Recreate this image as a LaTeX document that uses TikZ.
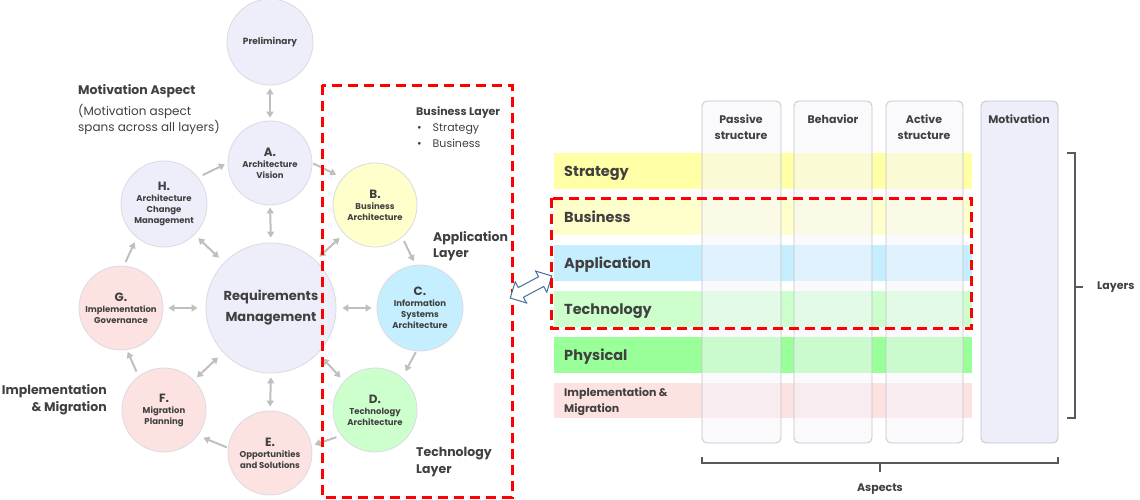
\documentclass[tikz,border=0pt]{standalone}
\usepackage{fontspec}
\setmainfont{Poppins}
\usetikzlibrary{arrows.meta,shapes.arrows}
\definecolor{txt}{HTML}{404040}
\definecolor{lav}{RGB}{238,238,251}
\definecolor{circline}{RGB}{218,218,226}
\definecolor{yel}{RGB}{255,255,204}
\definecolor{blu}{RGB}{197,238,255}
\definecolor{grn}{RGB}{204,255,204}
\definecolor{pnk}{RGB}{253,226,226}
\definecolor{stratc}{RGB}{255,255,165}
\definecolor{physc}{RGB}{153,255,153}
\definecolor{arrc}{RGB}{191,191,191}
\definecolor{colc}{RGB}{246,246,252}
\definecolor{colline}{RGB}{195,195,200}
\definecolor{bluearr}{RGB}{65,113,156}
\definecolor{bracec}{RGB}{89,89,89}
\tikzset{
  circ/.style={circle, draw=circline, line width=0.8pt, inner sep=0pt, align=center, text=txt,
     font=\fontsize{8.5}{11}\selectfont\bfseries},
  one/.style={draw=arrc, line width=2pt, -{Triangle[length=6pt,width=7pt]}},
  bi/.style={draw=arrc, line width=2pt, {Triangle[length=6pt,width=7pt]}-{Triangle[length=6pt,width=7pt]}},
  reddash/.style={draw=red, line width=3pt, dash pattern=on 10pt off 6pt},
  lbl/.style={text=txt, inner sep=0pt, anchor=west, align=left},
  colbox/.style={draw=colline, line width=0.8pt, rounded corners=5pt, fill=colc, fill opacity=0.55},
  bracel/.style={draw=bracec, line width=1.2pt},
  hdr/.style={text=txt, align=center, font=\fontsize{11}{16}\selectfont\bfseries},
  rowl/.style={lbl, anchor=base west, font=\fontsize{14.5}{16}\selectfont\bfseries},
}
\newcommand{\bigf}[1]{{\fontsize{12}{12}\selectfont #1}}
\begin{document}
\begin{tikzpicture}[x=1pt,y=-1pt]
\useasboundingbox (0,0) rectangle (1140,499);
% ---------- left cycle ----------
\node[circ, fill=lav, minimum size=86pt, font=\fontsize{9}{11}\selectfont\bfseries] (P) at (270,42) {Preliminary};
\node[circ, fill=lav, minimum size=84pt] (A) at (270,163) {\bigf{A.}\\Architecture\\Vision};
\node[circ, fill=lav, minimum size=86pt] (H) at (164,204) {\bigf{H.}\\Architecture\\Change\\Management};
\node[circ, fill=lav, minimum size=130pt, font=\fontsize{13}{21}\selectfont\bfseries] (RM) at (271,308) {Requirements\\Management};
\node[circ, fill=pnk, minimum size=84pt] (G) at (121,308) {\bigf{G.}\\Implementation\\Governance};
\node[circ, fill=pnk, minimum size=84pt] (F) at (164,410) {\bigf{F.}\\Migration\\Planning};
\node[circ, fill=pnk, minimum size=84pt] (E) at (270,453) {\bigf{E.}\\Opportunities\\and Solutions};
\node[circ, fill=yel, minimum size=84pt] (B) at (375,205) {\bigf{B.}\\Business\\Architecture};
\node[circ, fill=blu, minimum size=86pt] (C) at (420,308) {\bigf{C.}\\Information\\Systems\\Architecture};
\node[circ, fill=grn, minimum size=84pt] (D) at (375,410) {\bigf{D.}\\Technology\\Architecture};
% cycle arrows
\draw[bi, shorten <=3pt, shorten >=3pt] (P.south) -- (A.north);
\draw[bi, shorten <=2pt, shorten >=5pt] (A.south) -- (RM.north);
\draw[one, shorten <=5pt, shorten >=3pt] (H.38) -- (A.180);
\draw[one, shorten <=1pt, shorten >=7pt] (A.0) -- (B.140);
\draw[one, shorten <=4pt, shorten >=4pt] (B.-50) -- (C.96);
\draw[one, shorten <=1pt, shorten >=7pt] (C.265) -- (D.50);
\draw[one, shorten <=5pt, shorten >=3pt] (D.217) -- (E.10);
\draw[one, shorten <=1pt, shorten >=6pt] (E.173) -- (F.-37);
\draw[one, shorten <=5pt, shorten >=2pt] (F.127) -- (G.-82);
\draw[one, shorten <=4pt, shorten >=5pt] (G.86) -- (H.231);
\draw[bi, shorten <=5pt, shorten >=7pt] (H.-45) -- (RM.136);
\draw[bi, shorten <=5pt, shorten >=8pt] (G.east) -- (RM.west);
\draw[bi, shorten <=4pt, shorten >=7pt] (F.45) -- (RM.223);
\draw[bi, shorten <=4pt, shorten >=4pt] (RM.south) -- (E.north);
\draw[bi, shorten <=5pt, shorten >=6pt] (RM.47) -- (B.223);
\draw[bi, shorten <=6pt, shorten >=5pt] (RM.east) -- (C.west);
\draw[bi, shorten <=7pt, shorten >=5pt] (RM.-44) -- (D.137);
% labels left
\node[lbl, font=\fontsize{12.5}{14}\selectfont\bfseries] (mot1) at (78,91) {Motivation Aspect};
\node[lbl, anchor=north west, font=\fontsize{12}{16}\selectfont] (mot2) at (78,104) {(Motivation aspect\\spans across all layers)};
\node[lbl, anchor=east, align=right, font=\fontsize{12.5}{17}\selectfont\bfseries] (impl) at (107,400) {Implementation\\\& Migration};
\node[lbl, anchor=north west, font=\fontsize{11}{16}\selectfont] (bl) at (416,106) {\textbf{Business Layer}\\
  \hspace*{1pt}\textbullet\hspace{11pt}Strategy\\\hspace*{1pt}\textbullet\hspace{11pt}Business};
\node[lbl, font=\fontsize{12.5}{16}\selectfont\bfseries] (al) at (433,246) {Application\\Layer};
\node[lbl, font=\fontsize{12.5}{17}\selectfont\bfseries] (tl) at (416,462) {Technology\\Layer};
\draw[reddash] (322,85) rectangle (512,497);
% ---------- double arrow ----------
\node[double arrow, draw=bluearr, fill=white, line width=1pt, minimum height=47pt, inner sep=5pt,
      double arrow head extend=6.5pt, rotate=28] (DA) at (531,287) {};
% ---------- right: layers ----------
\fill[stratc] (554,153) rectangle (972,189);
\fill[yel] (554,199) rectangle (972,235);
\fill[blu] (554,245) rectangle (972,281);
\fill[grn] (554,291) rectangle (972,327);
\fill[physc] (554,337) rectangle (972,373);
\fill[pnk] (554,383) rectangle (972,418);
\node[rowl] (rS) at (564,176.5) {Strategy};
\node[rowl] (rB) at (564,222.5) {Business};
\node[rowl] (rA) at (564,268.5) {Application};
\node[rowl] (rT) at (564,314.5) {Technology};
\node[rowl] (rP) at (564,360.5) {Physical};
\node[lbl, font=\fontsize{11}{16}\selectfont\bfseries] (rI) at (564,402) {Implementation \&\\Migration};
% columns
\path[colbox] (702,101) rectangle (781,443);
\path[colbox] (794,101) rectangle (872,443);
\path[colbox] (886,101) rectangle (963,443);
\path[colbox, fill=lav, fill opacity=1] (981,101) rectangle (1058,443);
\node[hdr] (cP) at (741,127) {Passive\\structure};
\node[hdr] (cB) at (833,119) {Behavior};
\node[hdr] (cA) at (924,127) {Active\\structure};
\node[hdr] (cM) at (1019,119) {Motivation};
\draw[reddash] (551,198) rectangle (971,328);
% braces
\coordinate (lt) at (1067,153);
\coordinate (lb) at (1067,418);
\coordinate (lm) at (1075,287);
\node[lbl, font=\fontsize{11}{14}\selectfont\bfseries] (Ly) at (1097,287) {Layers};
\draw[bracel] (lt) -- (1075,153) -- (1075,418) -- (lb);
\draw[bracel] (lm) -- ([xshift=-14pt]Ly.west);
\coordinate (al0) at (702,457);
\coordinate (ar0) at (1058,457);
\node[text=txt, inner sep=0pt, font=\fontsize{11}{14}\selectfont\bfseries] (As) at (880,489) {Aspects};
\draw[bracel] (al0) -- (702,463) -- (1058,463) -- (ar0);
\draw[bracel] (880,463) -- (880,472);
\end{tikzpicture}
\end{document}
